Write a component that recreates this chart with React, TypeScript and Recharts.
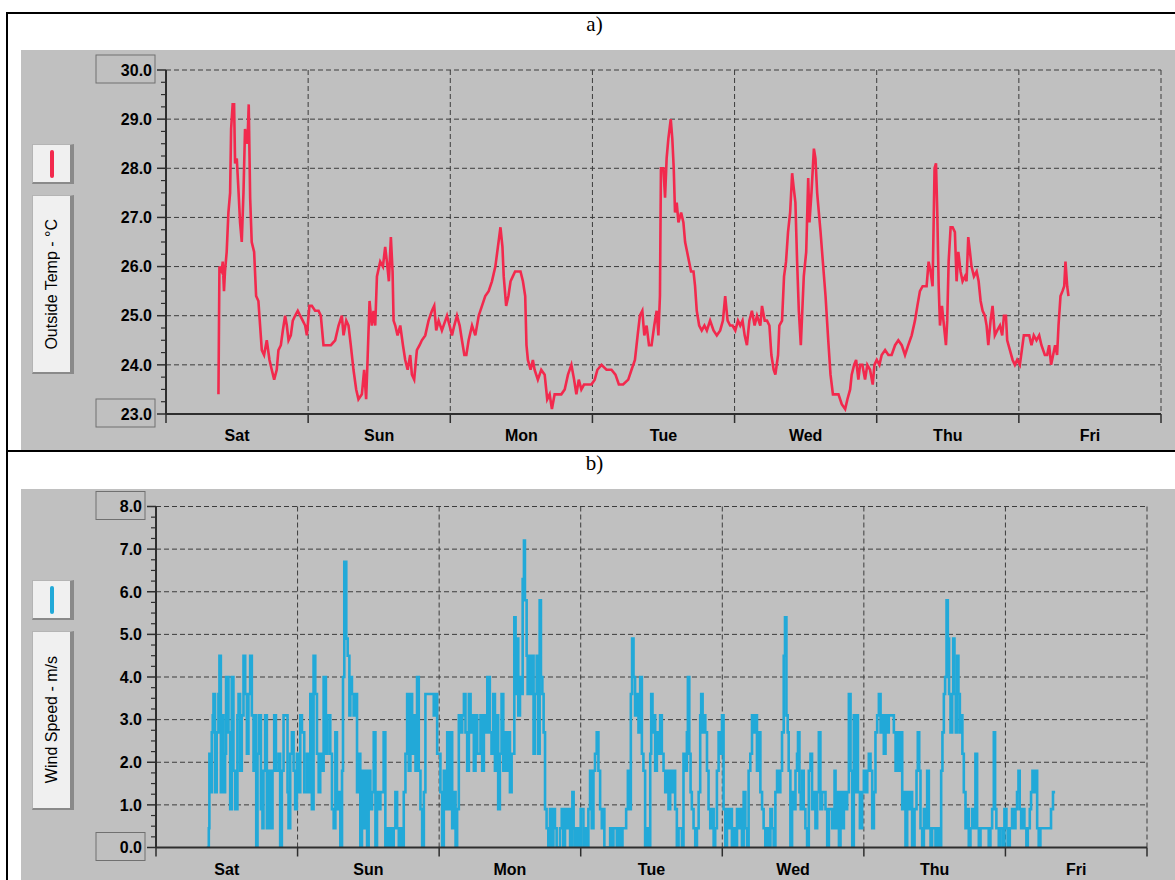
import { CartesianGrid, Line, LineChart, XAxis, YAxis } from "recharts";

// Day labels sit in the middle of each day, tick marks on the day edges.
const DAY_NAMES = ["Sat", "Sun", "Mon", "Tue", "Wed", "Thu", "Fri"];
const DAY_EDGES = [0, 1, 2, 3, 4, 5, 6, 7];
const DAY_CENTERS = [0.5, 1.5, 2.5, 3.5, 4.5, 5.5, 6.5];

const TEMP_MAJOR = [23, 24, 25, 26, 27, 28, 29, 30];
const WIND_MAJOR = [0, 1, 2, 3, 4, 5, 6, 7, 8];

// [day, °C]
const tempSat: [number, number][] = [
  [0.369, 23.4], [0.376, 26.0], [0.392, 25.9], [0.399, 26.1], [0.408, 25.5], [0.415, 25.9],
  [0.427, 26.3], [0.439, 27.1], [0.451, 27.5], [0.458, 28.8], [0.469, 29.3], [0.479, 29.3],
  [0.486, 28.1], [0.498, 28.2], [0.509, 27.6], [0.521, 26.9], [0.533, 26.5], [0.545, 27.5],
  [0.556, 28.8], [0.573, 28.5], [0.582, 29.3], [0.592, 27.4], [0.603, 26.5], [0.62, 26.3],
  [0.634, 25.4], [0.65, 25.3], [0.662, 24.8], [0.674, 24.3], [0.69, 24.2], [0.709, 24.5],
  [0.728, 24.1], [0.744, 23.9], [0.761, 23.7], [0.779, 23.9], [0.791, 24.3], [0.808, 24.4],
  [0.822, 24.7], [0.838, 25.0], [0.85, 24.8], [0.862, 24.5], [0.878, 24.6], [0.892, 24.9],
  [0.908, 25.0], [0.927, 25.1], [0.944, 25.0], [0.962, 24.9], [0.979, 24.8], [0.991, 24.6],
];
const tempSun: [number, number][] = [
  [1.009, 25.2], [1.026, 25.2], [1.049, 25.1], [1.073, 25.1], [1.089, 25.0], [1.108, 24.4],
  [1.131, 24.4], [1.16, 24.4], [1.19, 24.5], [1.214, 24.8], [1.237, 25.0], [1.249, 24.6],
  [1.268, 24.9], [1.284, 24.8], [1.3, 24.4], [1.319, 23.9], [1.338, 23.5], [1.354, 23.3],
  [1.378, 23.4], [1.394, 23.9], [1.408, 23.3], [1.418, 24.1], [1.432, 25.3], [1.448, 24.8],
  [1.46, 25.1], [1.472, 24.8], [1.484, 25.8], [1.507, 26.1], [1.526, 26.0], [1.542, 26.4],
  [1.554, 26.1], [1.568, 25.7], [1.582, 26.6], [1.594, 25.9], [1.601, 24.9], [1.613, 24.8],
  [1.629, 24.6], [1.648, 24.8], [1.667, 24.4], [1.683, 24.1], [1.7, 23.9], [1.718, 24.2],
  [1.73, 23.8], [1.746, 23.7], [1.765, 24.3], [1.784, 24.4], [1.8, 24.5], [1.824, 24.6],
  [1.847, 24.9], [1.871, 25.1], [1.887, 25.2], [1.901, 24.7], [1.918, 24.9], [1.941, 24.7],
  [1.965, 24.9], [1.977, 25.0], [1.995, 24.8],
];
const tempMon: [number, number][] = [
  [2.012, 24.6], [2.028, 24.8], [2.047, 25.0], [2.066, 24.8], [2.082, 24.5], [2.099, 24.2],
  [2.113, 24.2], [2.129, 24.5], [2.153, 24.8], [2.176, 24.6], [2.2, 25.0], [2.223, 25.2],
  [2.246, 25.4], [2.27, 25.5], [2.293, 25.7], [2.317, 26.0], [2.353, 26.8], [2.367, 26.4],
  [2.376, 25.8], [2.393, 25.2], [2.409, 25.4], [2.424, 25.7], [2.44, 25.8], [2.456, 25.9],
  [2.475, 25.9], [2.494, 25.9], [2.511, 25.7], [2.527, 25.4], [2.536, 24.4], [2.546, 24.1],
  [2.565, 23.9], [2.581, 24.1], [2.593, 23.9], [2.616, 23.7], [2.64, 23.9], [2.664, 23.8],
  [2.682, 23.3], [2.699, 23.4], [2.715, 23.1], [2.734, 23.4], [2.758, 23.4], [2.781, 23.4],
  [2.805, 23.5], [2.828, 23.8], [2.852, 24.0], [2.871, 23.7], [2.887, 23.4], [2.904, 23.7],
  [2.922, 23.5], [2.941, 23.6], [2.965, 23.6], [2.993, 23.6],
];
const tempTue: [number, number][] = [
  [3.016, 23.7], [3.035, 23.9], [3.064, 24.0], [3.099, 23.9], [3.134, 23.9], [3.162, 23.8],
  [3.186, 23.6], [3.216, 23.6], [3.252, 23.7], [3.275, 23.9], [3.299, 24.1], [3.318, 24.6],
  [3.334, 25.0], [3.351, 25.1], [3.365, 24.6], [3.381, 24.8], [3.398, 24.4], [3.416, 24.4],
  [3.435, 24.8], [3.452, 25.1], [3.464, 24.6], [3.475, 25.4], [3.482, 28.0], [3.499, 28.0],
  [3.511, 27.4], [3.522, 28.2], [3.534, 28.6], [3.551, 29.0], [3.562, 28.6], [3.572, 28.0],
  [3.581, 27.1], [3.593, 27.3], [3.605, 26.9], [3.624, 27.1], [3.64, 26.9], [3.652, 26.5],
  [3.666, 26.3], [3.68, 26.1], [3.694, 25.9], [3.711, 25.9], [3.722, 25.6], [3.734, 25.1],
  [3.751, 24.8], [3.769, 24.7], [3.788, 24.8], [3.805, 24.7], [3.828, 24.9], [3.852, 24.7],
  [3.875, 24.6], [3.899, 24.7], [3.918, 24.9], [3.934, 25.4], [3.951, 24.9], [3.969, 24.8],
  [3.986, 24.8],
];
const tempWed: [number, number][] = [
  [4.005, 24.7], [4.024, 24.9], [4.04, 24.8], [4.056, 24.9], [4.071, 24.6], [4.087, 24.4],
  [4.104, 24.9], [4.122, 25.1], [4.141, 24.8], [4.158, 25.0], [4.181, 24.8], [4.193, 25.2],
  [4.212, 24.9], [4.228, 24.9], [4.245, 24.8], [4.259, 24.2], [4.275, 23.9], [4.287, 23.8],
  [4.306, 24.2], [4.315, 24.8], [4.334, 24.9], [4.348, 25.8], [4.362, 26.1], [4.376, 26.7],
  [4.391, 27.1], [4.405, 27.9], [4.416, 27.6], [4.428, 27.3], [4.44, 26.1], [4.452, 25.1],
  [4.466, 24.4], [4.475, 25.0], [4.487, 25.8], [4.504, 26.3], [4.518, 27.8], [4.527, 26.9],
  [4.541, 27.5], [4.558, 28.4], [4.569, 28.2], [4.581, 27.5], [4.593, 27.1], [4.605, 26.7],
  [4.621, 26.1], [4.64, 25.4], [4.659, 24.5], [4.675, 23.8], [4.692, 23.4], [4.731, 23.4],
  [4.754, 23.2], [4.778, 23.1], [4.794, 23.3], [4.813, 23.5], [4.824, 23.8], [4.841, 24.0],
  [4.855, 24.1], [4.871, 23.7], [4.883, 24.0], [4.899, 24.0], [4.918, 23.7], [4.934, 24.0],
  [4.953, 23.9], [4.972, 23.6], [4.984, 24.0],
];
const tempThu: [number, number][] = [
  [5.0, 24.1], [5.019, 24.0], [5.035, 24.2], [5.059, 24.3], [5.082, 24.2], [5.105, 24.2],
  [5.129, 24.4], [5.152, 24.5], [5.176, 24.4], [5.199, 24.2], [5.222, 24.4], [5.246, 24.6],
  [5.269, 24.9], [5.286, 25.2], [5.304, 25.5], [5.323, 25.6], [5.351, 25.6], [5.365, 26.1],
  [5.379, 25.9], [5.393, 25.6], [5.407, 28.0], [5.417, 28.1], [5.426, 27.1], [5.436, 25.6],
  [5.445, 24.8], [5.459, 25.2], [5.473, 24.8], [5.487, 24.4], [5.496, 24.9], [5.506, 26.1],
  [5.52, 26.8], [5.534, 26.8], [5.55, 26.7], [5.562, 25.7], [5.574, 26.3], [5.59, 25.9],
  [5.604, 25.7], [5.621, 25.8], [5.632, 25.7], [5.644, 26.6], [5.656, 26.3], [5.667, 26.0],
  [5.684, 25.8], [5.703, 25.9], [5.717, 25.7], [5.731, 25.3], [5.745, 25.1], [5.761, 25.0],
  [5.773, 24.8], [5.785, 24.4], [5.801, 24.9], [5.815, 25.2], [5.831, 24.6], [5.848, 24.7],
  [5.867, 24.8], [5.883, 24.6], [5.895, 25.0], [5.909, 25.0], [5.918, 24.5], [5.937, 24.3],
  [5.956, 24.1], [5.972, 24.0], [5.988, 24.1],
];
const tempFri: [number, number][] = [
  [6.007, 24.0], [6.021, 24.3], [6.035, 24.6], [6.054, 24.6], [6.073, 24.6], [6.089, 24.4],
  [6.105, 24.6], [6.124, 24.5], [6.143, 24.6], [6.159, 24.4], [6.171, 24.3], [6.183, 24.2],
  [6.199, 24.2], [6.213, 24.4], [6.227, 24.0], [6.241, 24.2], [6.255, 24.4], [6.269, 24.2],
  [6.279, 24.8], [6.293, 25.4], [6.307, 25.5], [6.319, 25.6], [6.328, 26.1], [6.34, 25.6],
  [6.349, 25.4],
];

// [day, m/s]
const windSat: [number, number][] = [
  [0.358, 0], [0.373, 0.45], [0.377, 2.2], [0.387, 1.3], [0.394, 2.7], [0.401, 3.1], [0.406, 3.6],
  [0.417, 1.3], [0.429, 2.7], [0.441, 3.6], [0.448, 4.5], [0.458, 1.3], [0.465, 3.1], [0.476, 1.3],
  [0.488, 2.2], [0.495, 4.0], [0.512, 2.7], [0.524, 0.9], [0.535, 4.0], [0.547, 1.8], [0.559, 0.9],
  [0.575, 3.1], [0.583, 3.6], [0.594, 1.8], [0.606, 3.1], [0.618, 4.5], [0.63, 3.6], [0.642, 2.2],
  [0.653, 3.6], [0.665, 4.5], [0.677, 3.1], [0.689, 1.8], [0.7, 3.1], [0.708, 0], [0.717, 2.2],
  [0.729, 3.1], [0.741, 0.9], [0.752, 0.45], [0.759, 1.8], [0.771, 3.1], [0.783, 0.45], [0.795, 1.8],
  [0.807, 0.45], [0.823, 1.8], [0.835, 3.1], [0.847, 1.8], [0.866, 2.2], [0.877, 0], [0.889, 1.8],
  [0.901, 3.1], [0.929, 1.3], [0.936, 0.45], [0.948, 2.2], [0.96, 2.7], [0.972, 1.8], [0.983, 0.9],
  [0.995, 2.2],
];
const windSun: [number, number][] = [
  [1.007, 1.3], [1.019, 3.1], [1.031, 2.7], [1.047, 1.3], [1.066, 2.2], [1.078, 1.3], [1.09, 3.6],
  [1.101, 0.9], [1.113, 4.5], [1.125, 3.6], [1.137, 2.2], [1.149, 1.3], [1.16, 2.2], [1.172, 1.8],
  [1.184, 4.0], [1.2, 2.2], [1.212, 3.1], [1.231, 2.2], [1.243, 0.9], [1.255, 0.45], [1.267, 2.7],
  [1.278, 0.9], [1.29, 1.3], [1.302, 0], [1.314, 1.8], [1.321, 4.0], [1.33, 6.7], [1.344, 4.9],
  [1.354, 4.5], [1.366, 3.1], [1.373, 4.0], [1.384, 3.6], [1.396, 3.1], [1.408, 3.6], [1.42, 1.3],
  [1.432, 2.2], [1.443, 0], [1.455, 1.8], [1.467, 0.45], [1.479, 1.8], [1.491, 0], [1.502, 1.8],
  [1.514, 0.9], [1.526, 1.3], [1.538, 2.7], [1.55, 0], [1.561, 1.3], [1.573, 0.9], [1.585, 1.3],
  [1.608, 2.7], [1.62, 0], [1.632, 0.45], [1.644, 0], [1.656, 0.45], [1.667, 0], [1.679, 0.45],
  [1.691, 1.3], [1.703, 0.45], [1.715, 0], [1.726, 0.45], [1.738, 0], [1.75, 1.3], [1.762, 2.2],
  [1.774, 3.6], [1.785, 1.8], [1.797, 3.6], [1.809, 2.2], [1.821, 3.1], [1.833, 1.8], [1.844, 4.0],
  [1.856, 1.8], [1.868, 0.9], [1.88, 0], [1.892, 1.3], [1.903, 3.6], [1.962, 3.1], [1.974, 3.6],
  [1.986, 2.2],
];
const windMon: [number, number][] = [
  [2.009, 1.3], [2.021, 0], [2.033, 1.8], [2.045, 0.9], [2.057, 2.7], [2.068, 0.9], [2.08, 2.7],
  [2.092, 0.45], [2.104, 1.3], [2.116, 0], [2.127, 0.9], [2.139, 3.1], [2.151, 2.7], [2.163, 3.1],
  [2.175, 3.6], [2.186, 2.7], [2.198, 1.8], [2.21, 3.6], [2.222, 2.7], [2.233, 3.1], [2.245, 1.8],
  [2.257, 3.1], [2.269, 2.2], [2.292, 3.1], [2.304, 1.8], [2.316, 3.1], [2.328, 2.7], [2.34, 4.0],
  [2.358, 2.7], [2.37, 2.2], [2.382, 3.6], [2.394, 1.8], [2.406, 3.1], [2.417, 0.9], [2.429, 2.2],
  [2.441, 3.6], [2.453, 1.8], [2.465, 2.7], [2.476, 1.8], [2.488, 2.7], [2.5, 1.3], [2.512, 2.2],
  [2.531, 5.4], [2.54, 3.6], [2.55, 4.9], [2.559, 3.1], [2.571, 4.0], [2.583, 3.6], [2.59, 6.3],
  [2.599, 7.2], [2.606, 5.8], [2.618, 4.5], [2.625, 3.6], [2.634, 4.5], [2.649, 3.6], [2.658, 4.5],
  [2.667, 2.2], [2.677, 3.6], [2.689, 4.5], [2.7, 2.2], [2.71, 5.8], [2.719, 4.0], [2.729, 3.6],
  [2.738, 2.7], [2.748, 0.9], [2.759, 0.45], [2.771, 0], [2.783, 0.9], [2.795, 0], [2.807, 0.9],
  [2.818, 0.45], [2.83, 0], [2.854, 0.45], [2.866, 0.9], [2.877, 0], [2.889, 0.9], [2.901, 0.45],
  [2.913, 0.9], [2.925, 0], [2.941, 1.3], [2.95, 0.45], [2.96, 0], [2.972, 0.45], [2.983, 0],
];
const windTue: [number, number][] = [
  [3.0, 0.9], [3.019, 0], [3.031, 0.45], [3.042, 0], [3.054, 0.9], [3.066, 1.8], [3.078, 0.45],
  [3.09, 1.8], [3.101, 2.2], [3.113, 2.7], [3.125, 1.8], [3.137, 0.9], [3.149, 0.45], [3.16, 0.9],
  [3.167, 0], [3.208, 0.45], [3.219, 0], [3.231, 0.45], [3.255, 0], [3.267, 0.45], [3.285, 0],
  [3.295, 0.45], [3.321, 0.9], [3.333, 1.8], [3.344, 0.9], [3.354, 3.6], [3.363, 4.9], [3.373, 4.0],
  [3.384, 3.1], [3.396, 3.6], [3.408, 2.7], [3.42, 4.0], [3.432, 2.2], [3.443, 1.8], [3.455, 0],
  [3.467, 0.45], [3.479, 0], [3.491, 2.2], [3.498, 3.6], [3.507, 2.7], [3.517, 3.1], [3.526, 1.8],
  [3.538, 2.7], [3.55, 2.2], [3.561, 3.1], [3.573, 2.2], [3.585, 1.8], [3.597, 1.3], [3.608, 1.8],
  [3.62, 0.9], [3.632, 1.8], [3.644, 1.3], [3.656, 1.8], [3.667, 0.9], [3.679, 0], [3.691, 0.45],
  [3.715, 0], [3.726, 2.2], [3.738, 1.8], [3.75, 2.7], [3.757, 4.0], [3.767, 2.2], [3.776, 1.3],
  [3.785, 0.9], [3.797, 0.45], [3.809, 0], [3.821, 0.45], [3.833, 1.3], [3.844, 3.1], [3.851, 3.6],
  [3.861, 2.7], [3.87, 3.1], [3.88, 2.7], [3.892, 1.8], [3.903, 0.9], [3.915, 0.45], [3.927, 0.9],
  [3.939, 0], [3.95, 0.45], [3.962, 1.8], [3.974, 2.7], [3.986, 2.2], [3.998, 3.1],
];
const windWed: [number, number][] = [
  [4.009, 0.9], [4.021, 0], [4.033, 0.9], [4.045, 0.45], [4.057, 0.9], [4.068, 0], [4.08, 0.45],
  [4.092, 0], [4.104, 0.9], [4.116, 0.45], [4.127, 0.9], [4.139, 0], [4.151, 1.3], [4.163, 0.45],
  [4.175, 0], [4.186, 1.8], [4.198, 2.2], [4.21, 3.1], [4.222, 2.7], [4.234, 3.1], [4.245, 1.8],
  [4.257, 2.7], [4.269, 1.3], [4.281, 0.9], [4.292, 0.45], [4.304, 0], [4.316, 0.45], [4.328, 0],
  [4.34, 0.9], [4.351, 0.45], [4.363, 0], [4.375, 1.3], [4.387, 1.8], [4.399, 1.3], [4.41, 1.8],
  [4.422, 2.7], [4.434, 4.5], [4.443, 5.4], [4.453, 3.1], [4.462, 2.7], [4.469, 1.8], [4.481, 0],
  [4.493, 1.3], [4.505, 0.9], [4.517, 1.8], [4.528, 2.2], [4.535, 2.7], [4.545, 1.3], [4.554, 0.9],
  [4.564, 1.8], [4.575, 0.9], [4.587, 0.45], [4.599, 0], [4.611, 1.8], [4.623, 2.2], [4.634, 0.9],
  [4.646, 1.3], [4.658, 0.45], [4.67, 1.3], [4.682, 2.7], [4.693, 0.9], [4.705, 1.3], [4.729, 0.9],
  [4.741, 0], [4.753, 0.9], [4.776, 0.45], [4.793, 1.8], [4.8, 0.45], [4.812, 1.3], [4.824, 0],
  [4.835, 1.3], [4.847, 0.45], [4.859, 1.3], [4.871, 0.9], [4.882, 1.3], [4.894, 3.6], [4.906, 1.8],
  [4.918, 0], [4.929, 3.1], [4.941, 1.3], [4.948, 3.1], [4.958, 1.3], [4.972, 0.45], [4.988, 1.3],
];
const windThu: [number, number][] = [
  [5.0, 1.8], [5.012, 1.3], [5.024, 1.8], [5.035, 2.2], [5.047, 1.8], [5.059, 0.45], [5.071, 1.3],
  [5.082, 2.7], [5.094, 3.1], [5.106, 3.6], [5.118, 2.7], [5.129, 3.1], [5.141, 2.2], [5.153, 3.1],
  [5.165, 2.7], [5.176, 3.1], [5.212, 2.7], [5.224, 1.8], [5.235, 2.7], [5.247, 1.8], [5.259, 2.7],
  [5.271, 0.9], [5.282, 1.3], [5.294, 0], [5.306, 1.3], [5.318, 0.9], [5.329, 1.3], [5.341, 0],
  [5.358, 0.9], [5.372, 1.8], [5.381, 2.7], [5.391, 1.8], [5.4, 0.45], [5.412, 0], [5.424, 0.9],
  [5.435, 0.45], [5.447, 1.8], [5.459, 0.45], [5.471, 0], [5.482, 0.45], [5.506, 0], [5.518, 0.45],
  [5.536, 0], [5.546, 1.8], [5.555, 2.7], [5.565, 3.6], [5.574, 4.0], [5.584, 5.8], [5.593, 4.9],
  [5.602, 3.6], [5.612, 2.7], [5.624, 3.6], [5.631, 4.9], [5.64, 3.6], [5.649, 2.7], [5.659, 4.5],
  [5.668, 3.6], [5.678, 2.7], [5.687, 3.1], [5.696, 2.2], [5.706, 1.3], [5.718, 0.45], [5.729, 0.9],
  [5.741, 0], [5.753, 0.45], [5.765, 0.9], [5.776, 0.45], [5.788, 2.2], [5.8, 0.45], [5.812, 0],
  [5.824, 0.45], [5.882, 0], [5.894, 0.45], [5.906, 0.9], [5.918, 2.7], [5.927, 0.9], [5.936, 0.45],
  [5.953, 0], [5.965, 0.45], [5.984, 0], [5.993, 0.9],
];
const windFri: [number, number][] = [
  [6.007, 0.45], [6.016, 0], [6.031, 0.45], [6.047, 0.9], [6.059, 0.45], [6.071, 0.9], [6.082, 1.3],
  [6.092, 1.8], [6.101, 0.9], [6.111, 0.45], [6.125, 0.9], [6.134, 0.45], [6.148, 0], [6.158, 0.45],
  [6.172, 0.9], [6.181, 1.3], [6.191, 1.8], [6.2, 1.3], [6.212, 1.8], [6.224, 0.45], [6.235, 0],
  [6.247, 0.45], [6.322, 0.9], [6.336, 1.3], [6.351, 1.3],
];

const toRows = (parts: [number, number][][]) =>
  parts.flat().map(([t, v]) => ({ t, v }));

const tempData = toRows([tempSat, tempSun, tempMon, tempTue, tempWed, tempThu, tempFri]);
const windData = toRows([windSat, windSun, windMon, windTue, windWed, windThu, windFri]);

const PANEL_BG = "#c0c0c0";
const AXIS = "#2e2e2e";
const GRID = "#3c3c3c";
const FONT = "'Liberation Sans', Arial, sans-serif";

function quarterTicks(major: number[]) {
  const out: number[] = [];
  major.forEach((m, i) => {
    out.push(m);
    if (i < major.length - 1) out.push(m + 0.25, m + 0.5, m + 0.75);
  });
  return out;
}

function DayTick(props: any) {
  const { x, y, payload } = props;
  const v = payload.value as number;
  if (Number.isInteger(v)) {
    return (
      <g>
        <line x1={x} x2={x} y1={y} y2={y + 9} stroke={AXIS} strokeWidth={1.5} />
      </g>
    );
  }
  return (
    <g>
      <text
        x={x}
        y={y + 27}
        textAnchor="middle"
        fontFamily={FONT}
        fontWeight="bold"
        fontSize={16}
        fill="#000"
      >
        {DAY_NAMES[Math.floor(v)]}
      </text>
    </g>
  );
}

function makeValueTick(min: number, max: number, boxW: number) {
  return function ValueTick(props: any) {
    const { x, y, payload } = props;
    const v = payload.value as number;
    const major = Math.abs(v - Math.round(v)) < 1e-6;
    if (!major) {
      return (
        <g>
          <line x1={x - 5} x2={x} y1={y} y2={y} stroke={AXIS} strokeWidth={1.2} />
        </g>
      );
    }
    const boxed = v === min || v === max;
    return (
      <g>
        <line x1={x - 9} x2={x} y1={y} y2={y} stroke={AXIS} strokeWidth={1.5} />
        {boxed && (
          <rect
            x={x - 11 - boxW}
            y={y - 15}
            width={boxW}
            height={28}
            fill="none"
            stroke="#707070"
            strokeWidth={1}
          />
        )}
        <text
          x={x - 14}
          y={y}
          dy="0.36em"
          textAnchor="end"
          fontFamily={FONT}
          fontWeight="bold"
          fontSize={16}
          fill="#000"
        >
          {v.toFixed(1)}
        </text>
      </g>
    );
  };
}

function LegendButtons({ top, color, label }: { top: number; color: string; label: string }) {
  const button: React.CSSProperties = {
    position: "absolute",
    left: 32,
    width: 42,
    background: "#f0f0f0",
    borderTop: "1px solid #b4b4b4",
    borderLeft: "1px solid #b4b4b4",
    borderRight: "4px solid #8a8a8a",
    borderBottom: "2px solid #8a8a8a",
    boxSizing: "border-box",
    display: "flex",
    alignItems: "center",
    justifyContent: "center",
  };
  return (
    <>
      <div style={{ ...button, top, height: 40 }}>
        <div style={{ width: 4, height: 28, borderRadius: 2, background: color }} />
      </div>
      <div style={{ ...button, top: top + 51, height: 179 }}>
        <span
          style={{
            writingMode: "vertical-rl",
            transform: "rotate(180deg)",
            fontFamily: FONT,
            fontSize: 16,
            color: "#000",
            whiteSpace: "nowrap",
          }}
        >
          {label}
        </span>
      </div>
    </>
  );
}

const dayTicks = [...DAY_EDGES, ...DAY_CENTERS].sort((a, b) => a - b);

function Panel({
  top,
  height,
  title,
  data,
  color,
  major,
  yAxisWidth,
  margin,
  xAxisHeight,
  boxW,
  lineType,
  legendTop,
  legendLabel,
}: {
  top: number;
  height: number;
  title: string;
  data: { t: number; v: number }[];
  color: string;
  major: number[];
  yAxisWidth: number;
  margin: { top: number; right: number; bottom: number; left: number };
  xAxisHeight: number;
  boxW: number;
  lineType: "linear" | "stepAfter";
  legendTop: number;
  legendLabel: string;
}) {
  const min = major[0];
  const max = major[major.length - 1];
  return (
    <>
      <div
        style={{
          position: "absolute",
          left: 0,
          right: 0,
          top: top - 38,
          textAlign: "center",
          fontFamily: "'Liberation Serif', 'Times New Roman', serif",
          fontSize: 21,
          color: "#000",
          paddingLeft: 14,
        }}
      >
        {title}
      </div>
      <div style={{ position: "absolute", left: 21, top, width: 1154, height, background: PANEL_BG }}>
        <LineChart width={1154} height={height} margin={margin}>
          <CartesianGrid
            stroke={GRID}
            strokeDasharray="5 3"
            horizontalValues={major.slice(1)}
            verticalValues={DAY_EDGES.slice(1)}
          />
          <XAxis
            dataKey="t"
            type="number"
            domain={[0, 7]}
            ticks={dayTicks}
            interval={0}
            height={xAxisHeight}
            tickSize={0}
            tickMargin={0}
            tickLine={false}
            axisLine={{ stroke: AXIS, strokeWidth: 2 }}
            tick={<DayTick />}
            allowDataOverflow
          />
          <YAxis
            type="number"
            domain={[min, max]}
            ticks={quarterTicks(major)}
            interval={0}
            width={yAxisWidth}
            tickSize={0}
            tickMargin={0}
            tickLine={false}
            axisLine={{ stroke: AXIS, strokeWidth: 2 }}
            tick={makeValueTick(min, max, boxW)}
            allowDataOverflow
          />
          <Line
            data={data}
            dataKey="v"
            type={lineType}
            stroke={color}
            strokeWidth={2.6}
            strokeLinejoin="miter"
            dot={false}
            activeDot={false}
            isAnimationActive={false}
          />
        </LineChart>
      </div>
      <LegendButtons top={legendTop} color={color} label={legendLabel} />
    </>
  );
}

export default function App() {
  return (
    <div
      style={{
        position: "absolute",
        left: 0,
        top: 0,
        width: 1175,
        height: 880,
        background: "#fff",
        overflow: "hidden",
      }}
    >
      {/* outer frame + divider */}
      <div
        style={{
          position: "absolute",
          left: 6,
          top: 12,
          width: 1180,
          height: 880,
          borderLeft: "2px solid #000",
          borderTop: "2px solid #000",
        }}
      />
      <div style={{ position: "absolute", left: 6, top: 450, width: 1175, height: 2, background: "#000" }} />

      <Panel
        top={50}
        height={400}
        title="a)"
        data={tempData}
        color="#f2294d"
        major={TEMP_MAJOR}
        yAxisWidth={145}
        margin={{ top: 20, right: 14, bottom: 0, left: 0 }}
        xAxisHeight={36}
        boxW={59}
        lineType="linear"
        legendTop={144}
        legendLabel="Outside Temp - °C"
      />
      <Panel
        top={489}
        height={391}
        title="b)"
        data={windData}
        color="#22a9d8"
        major={WIND_MAJOR}
        yAxisWidth={135}
        margin={{ top: 17.5, right: 28, bottom: 0, left: 0 }}
        xAxisHeight={32.5}
        boxW={49}
        lineType="stepAfter"
        legendTop={580}
        legendLabel="Wind Speed - m/s"
      />
    </div>
  );
}
